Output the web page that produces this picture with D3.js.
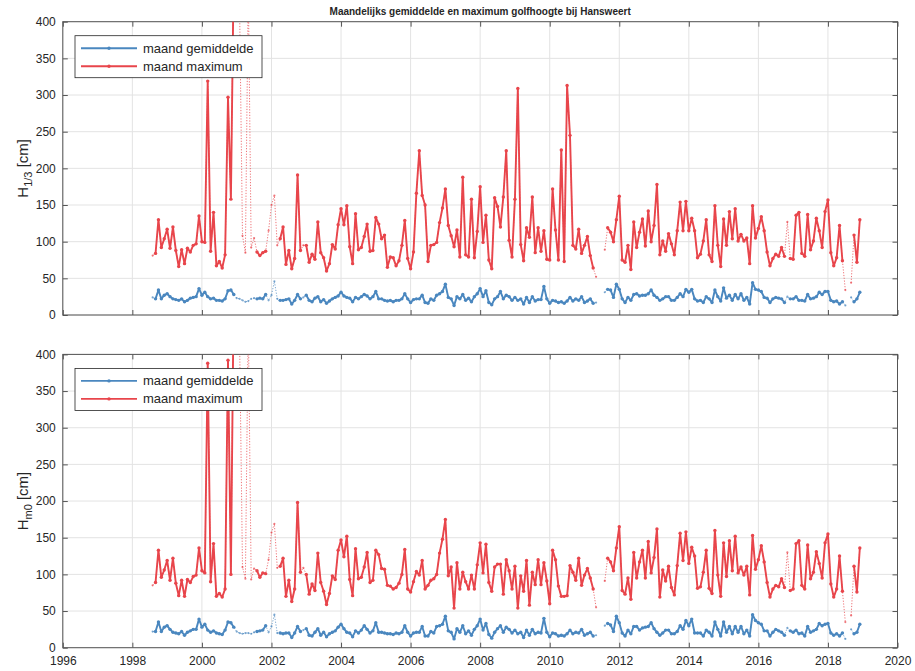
<!DOCTYPE html>
<html><head><meta charset="utf-8">
<script src="https://cdn.jsdelivr.net/npm/d3@7"></script>
<style>
body{margin:0;background:#fff}
svg{display:block}
text{font-family:"Liberation Sans",Arial,Helvetica,sans-serif;fill:#262626}
</style>
</head><body>
<svg id="c" width="915" height="671"></svg>
<script>
// ---- DATA (monthly, starting Aug 1998) ----
const startYear = 1998, startMonth = 7; // 0-based month index: 7 = August
const meanH13 = [
24,22,34,22,27,29,25,22,21,20, 22,18,20,23,24,25,36,27,31,25,
22,23,20,20,19,22,33,34,28,23, 22,20,18,19,22,23,22,23,22,28,
20,27,46,22,20,20,21,22,15,20, 28,22,24,27,20,18,23,25,18,21,
16,19,22,24,26,31,26,24,23,18, 24,22,25,28,26,22,25,32,22,22,
20,19,20,18,20,20,22,29,22,17, 21,22,22,27,17,16,22,20,27,29,
32,42,24,22,13,25,22,28,20,23, 18,25,29,36,25,33,17,14,22,25,
32,22,27,25,20,24,20,22,15,24, 17,25,19,21,21,39,22,16,20,19,
17,18,16,19,24,19,22,20,25,17, 19,22,16,17,null,null,31,35,34,24,
42,35,22,17,24,20,28,29,26,27, 27,29,34,27,24,20,22,25,25,20,
20,24,29,25,35,31,35,22,19,20, 17,25,22,17,34,25,19,37,23,27,
20,28,22,29,20,24,15,44,35,34, 32,24,23,17,22,24,23,22,17,25,
22,22,25,20,20,19,28,22,23,25, 31,28,32,32,20,18,19,15,18,13,
null,24,18,22,31];
const maxH13 = [
81,84,130,92,104,117,91,120,88,66, 89,70,91,86,95,97,135,100,99,319,
87,140,67,73,64,82,297,158,480,450, 420,108,85,450,92,105,86,81,85,87,
115,150,163,95,104,120,69,88,63,77, 191,88,95,95,72,83,76,127,85,78,
60,70,96,90,123,145,123,149,93,70, 138,89,92,107,124,87,88,133,124,104,
109,65,79,78,67,74,95,129,77,63, 86,166,224,163,150,73,95,96,99,126,
146,172,122,108,93,116,79,188,82,79, 158,78,114,175,99,136,75,63,160,148,
120,161,224,102,79,158,309,96,74,119, 106,161,85,119,87,115,76,75,172,116,
75,225,73,313,245,95,90,117,84,95, 107,81,64,52,null,null,89,119,113,100,
130,162,75,72,95,62,127,92,113,131, 94,142,100,122,178,82,101,87,111,97,
82,115,154,115,155,115,132,115,78,83, 101,130,82,73,149,95,66,131,95,141,
104,145,101,110,101,105,70,149,105,118, 134,115,86,67,77,83,80,92,80,127,
77,76,136,140,84,80,137,89,101,132, 115,92,141,157,85,67,78,122,74,34,
null,44,109,72,130];
const meanHm0 = [
22,22,35,22,28,30,25,21,20,19, 22,17,21,23,25,25,39,28,32,24,
21,23,20,19,18,24,35,34,28,22, 20,19,20,20,19,21,22,23,24,30,
21,29,45,20,20,19,20,20,14,20, 29,22,24,26,17,16,21,26,17,21,
15,19,21,23,28,32,26,21,20,15, 23,20,24,30,25,20,23,34,21,21,
20,19,19,18,20,19,21,30,21,16, 20,21,21,29,16,16,22,20,29,30,
32,43,23,21,12,26,21,30,19,23, 17,25,30,39,24,33,18,13,21,26,
30,21,28,25,20,24,19,21,14,24, 17,25,19,21,20,40,21,15,20,19,
16,17,16,19,24,19,21,20,25,17, 19,21,16,17,null,null,30,33,31,22,
43,34,20,16,24,19,29,29,24,27, 28,29,34,26,21,17,20,24,24,19,
19,22,30,25,37,30,39,20,20,20, 16,24,21,16,35,25,16,35,21,29,
19,29,21,29,19,24,16,45,37,34, 32,23,23,16,21,25,23,21,17,27,
23,21,24,19,20,16,29,21,23,25, 33,30,32,33,20,17,19,16,20,12,
null,25,19,21,32];
const maxHm0 = [
85,89,133,96,106,119,92,122,88,71, 92,70,93,89,97,99,136,105,102,388,
90,142,70,74,69,80,392,100,500,450, 420,110,94,450,93,108,105,96,102,101,
120,157,169,109,111,122,70,92,63,80, 198,103,109,100,73,87,78,129,89,77,
59,74,98,93,133,147,124,152,93,71, 135,94,96,110,130,89,92,133,127,108,
107,85,84,80,82,88,100,134,80,76, 90,104,99,119,80,85,92,94,100,129,
148,175,98,110,54,116,80,103,90,80, 99,80,113,143,102,141,89,77,110,114,
114,73,120,105,80,111,54,98,77,119, 58,103,86,120,86,116,91,60,133,120,
84,70,70,71,112,103,92,122,85,99, 108,95,80,55,null,null,91,122,117,105,
136,165,78,73,95,66,130,95,117,133, 95,145,102,123,162,69,106,91,111,82,
72,112,156,119,158,115,137,125,81,83, 103,133,81,74,160,99,70,143,97,146,
105,152,102,110,99,111,72,153,107,120, 139,117,89,69,80,85,83,94,82,130,
78,80,142,146,85,80,140,94,103,131, 115,95,143,155,87,69,80,125,77,35,
null,44,111,76,136];
// months with incomplete data (drawn dotted)
const incompleteMonths = [0,29,30,31,32,33,34,35,40,41,42,43,52,153,156,219,239,241];
const yTicks = [0,50,100,150,200,250,300,350,400];
const xTicks = [1996,1998,2000,2002,2004,2006,2008,2010,2012,2014,2016,2018,2020];
const seriesNames = ["maand gemiddelde","maand maximum"];
const titleText = "Maandelijks gemiddelde en maximum golfhoogte bij Hansweert";

// ---- DRAW ----
const svg = d3.select("#c");
const colMean = "#4a87bf", colMax = "#e8454b";
const x = d3.scaleLinear().domain([1996,2020]).range([62.8,897.5]);
const tOf = i => startYear + (startMonth + i)/12;
const incompleteSet = new Set(incompleteMonths);

const panels = [
  {top:21.7, bottom:315, mean:meanH13, max:maxH13, sub:"1/3", xlabels:false},
  {top:354.4, bottom:647.7, mean:meanHm0, max:maxHm0, sub:"m0", xlabels:true}
];

svg.append("text").attr("x",(x.range()[0]+x.range()[1])/2).attr("y",15)
  .attr("text-anchor","middle").attr("font-size",10).attr("font-weight","bold")
  .text(titleText);

panels.forEach((p,pi)=>{
  const y = d3.scaleLinear().domain([0,400]).range([p.bottom,p.top]);
  const g = svg.append("g");
  const x0 = x.range()[0], x1 = x.range()[1];
  // grid
  g.selectAll(".gx").data(xTicks).join("line")
    .attr("x1",d=>x(d)).attr("x2",d=>x(d)).attr("y1",p.top).attr("y2",p.bottom)
    .attr("stroke","#e3e3e3").attr("stroke-width",1);
  g.selectAll(".gy").data(yTicks).join("line")
    .attr("x1",x0).attr("x2",x1).attr("y1",d=>y(d)).attr("y2",d=>y(d))
    .attr("stroke","#e3e3e3").attr("stroke-width",1);

  // clip
  const cid = "clip"+pi;
  svg.append("clipPath").attr("id",cid).append("rect")
    .attr("x",x0).attr("y",p.top).attr("width",x1-x0).attr("height",p.bottom-p.top);
  const pg = svg.append("g").attr("clip-path",`url(#${cid})`);

  [[p.mean,colMean],[p.max,colMax]].forEach(([vals,col])=>{
    const pts = vals.map((v,i)=>({t:tOf(i),v:v,ok:!incompleteSet.has(i)}));
    const lineAll = d3.line().defined(d=>d.v!==null).x(d=>x(d.t)).y(d=>y(d.v));
    const lineOk = d3.line().defined(d=>d.v!==null && d.ok).x(d=>x(d.t)).y(d=>y(d.v));
    pg.append("path").attr("d",lineAll(pts)).attr("fill","none")
      .attr("stroke",col).attr("stroke-width",1).attr("stroke-dasharray","1.2,1.6").attr("opacity",0.75);
    pg.append("path").attr("d",lineOk(pts)).attr("fill","none")
      .attr("stroke",col).attr("stroke-width",1.9).attr("stroke-linejoin","round");
    pg.selectAll(null).data(pts.filter(d=>d.v!==null)).join("circle")
      .attr("cx",d=>x(d.t)).attr("cy",d=>y(d.v))
      .attr("r",d=>d.ok?1.7:1.1).attr("fill",col).attr("opacity",d=>d.ok?1:0.7);
  });

  // axes (ticks inside)
  const ax = g.append("g");
  const left = d3.axisLeft(y).tickValues(yTicks).tickSizeInner(-5).tickSizeOuter(0).tickPadding(7);
  const right = d3.axisRight(y).tickValues(yTicks).tickSizeInner(-5).tickSizeOuter(0).tickFormat("");
  const bottom = d3.axisBottom(x).tickValues(xTicks).tickSizeInner(-5).tickSizeOuter(0).tickPadding(9)
     .tickFormat(p.xlabels ? d3.format("d") : "");
  const topA = d3.axisTop(x).tickValues(xTicks).tickSizeInner(-5).tickSizeOuter(0).tickFormat("");
  [ [left,`translate(${x0},0)`], [right,`translate(${x1},0)`],
    [bottom,`translate(0,${p.bottom})`], [topA,`translate(0,${p.top})`] ].forEach(([a,tr])=>{
    const gg = ax.append("g").attr("transform",tr).call(a);
    gg.select(".domain").remove();
    gg.selectAll(".tick line").attr("stroke","#555");
    gg.selectAll("text").attr("font-size",12).attr("fill","#262626")
      .attr("font-family","Liberation Sans, Arial, sans-serif");
  });
  ax.append("rect").attr("x",x0).attr("y",p.top).attr("width",x1-x0).attr("height",p.bottom-p.top)
    .attr("fill","none").attr("stroke","#555").attr("stroke-width",1);

  // y label
  const yl = svg.append("text")
    .attr("transform",`translate(28,${(p.top+p.bottom)/2}) rotate(-90)`)
    .attr("text-anchor","middle").attr("font-size",15);
  yl.append("tspan").text("H");
  yl.append("tspan").attr("font-size",11).attr("dy",4).text(p.sub);
  yl.append("tspan").attr("dy",-4).text(" [cm]");

  // legend
  const lx = 75, ly = p.top + 14;
  const lg = svg.append("g");
  lg.append("rect").attr("x",lx).attr("y",ly).attr("width",187).attr("height",42)
    .attr("fill","#fff").attr("stroke","#262626").attr("stroke-width",0.8);
  [[seriesNames[0],colMean],[seriesNames[1],colMax]].forEach(([nm,col],k)=>{
    const yy = ly + 12.5 + k*18;
    lg.append("line").attr("x1",lx+6).attr("x2",lx+62).attr("y1",yy).attr("y2",yy)
      .attr("stroke",col).attr("stroke-width",1.9);
    lg.append("circle").attr("cx",lx+34).attr("cy",yy).attr("r",1.7).attr("fill",col);
    lg.append("text").attr("x",lx+68).attr("y",yy+4.5).attr("font-size",13).text(nm);
  });
});
</script>
</body></html>
